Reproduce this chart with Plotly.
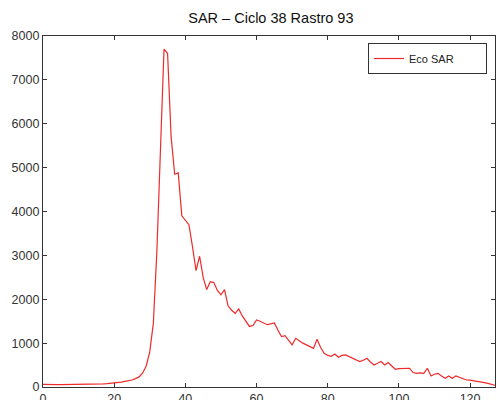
import plotly.graph_objects as go

x_vals = list(range(128))
eco_sar = [
    60, 55, 55, 55, 55, 55, 55, 55, 55, 55,
    55, 55, 58, 60, 62, 65, 68, 70, 75, 80,
    85, 95, 110, 130, 140, 160, 190, 230, 320, 480,
    800, 1450, 3100, 5500, 7700, 7600, 5700, 4850, 4880, 3900,
    3800, 3700, 3200, 2650, 2980, 2500, 2220, 2400, 2380, 2200,
    2100, 2220, 1850, 1750, 1680, 1780, 1620, 1500, 1380, 1400,
    1530, 1500, 1460, 1420, 1440, 1460, 1300, 1150, 1170, 1050,
    960, 1110, 1050, 1000, 960, 920, 880, 1090, 900, 770,
    720, 700, 750, 680, 720, 730, 690, 650, 620, 580,
    610, 655, 570, 503, 540, 580, 503, 556, 480, 404,
    420, 427, 420, 427, 330, 312, 320, 312, 427, 251,
    290, 312, 250, 198, 251, 198, 251, 220, 198, 160,
    155, 145, 122, 122, 100, 84, 60, 40,
]
x_ticks = [0, 20, 40, 60, 80, 100, 120]
y_ticks = [0, 1000, 2000, 3000, 4000, 5000, 6000, 7000, 8000]

fig = go.Figure()
fig.add_trace(go.Scatter(x=x_vals, y=eco_sar, mode="lines", name="Eco SAR",
                         line=dict(color="#ee2a2a", width=1.2)))

axis_common = dict(showline=True, linecolor="#333333", linewidth=1.2, mirror="allticks",
                   ticks="inside", ticklen=4, tickcolor="#333333", showgrid=False,
                   zeroline=False, automargin=False,
                   tickfont=dict(family="Liberation Sans, Arial", size=12.5, color="#333333"))

fig.update_layout(
    width=497, height=400,
    margin=dict(l=43, r=2, t=36, b=13),
    paper_bgcolor="white", plot_bgcolor="white",
    title=dict(text="SAR – Ciclo 38 Rastro 93", x=0.545, xanchor="center", y=0.955, yanchor="middle",
               font=dict(family="Liberation Sans, Arial", size=14.5, color="#111111")),
    xaxis=dict(range=[0, 127], tickvals=x_ticks, **axis_common),
    yaxis=dict(range=[0, 8000], tickvals=y_ticks, **axis_common),
    showlegend=True,
    legend=dict(orientation="h", x=0.719, y=0.98, xanchor="left", yanchor="top",
                bordercolor="#333333", borderwidth=1,
                bgcolor="white", font=dict(family="Liberation Sans, Arial", size=11, color="#222222"),
                entrywidth=72, entrywidthmode="pixels"),
)

fig.write_html("out.html")
